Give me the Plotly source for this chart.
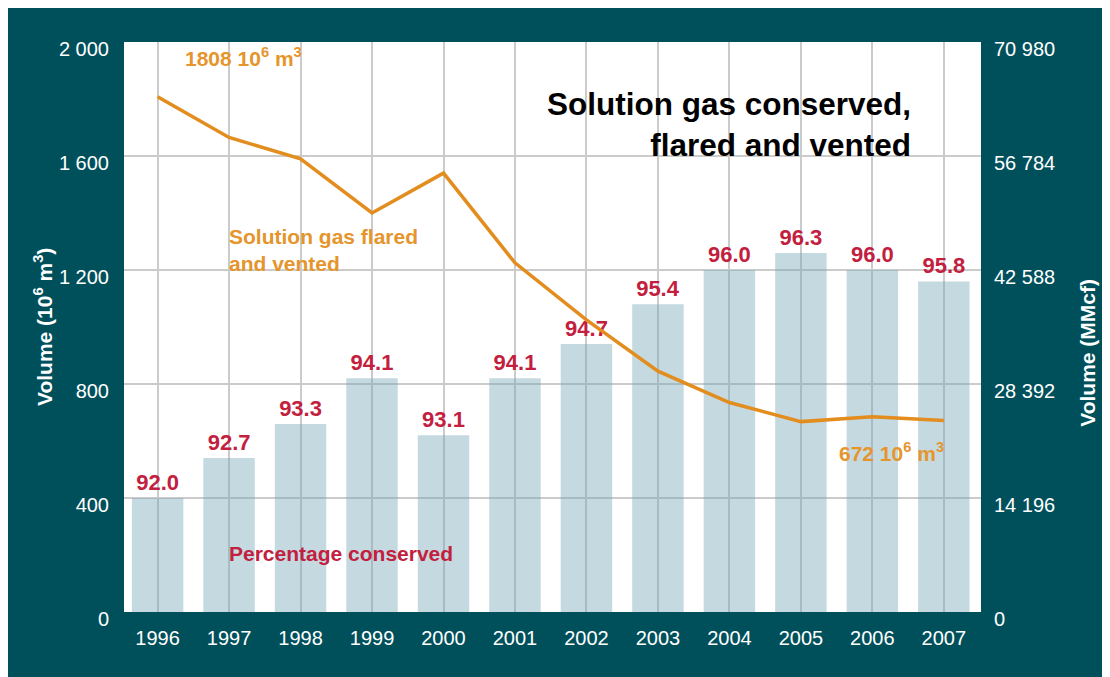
import plotly.graph_objects as go

years = [1996, 1997, 1998, 1999, 2000, 2001, 2002, 2003, 2004, 2005, 2006, 2007]
pct_conserved = [92.0, 92.7, 93.3, 94.1, 93.1, 94.1, 94.7, 95.4, 96.0, 96.3, 96.0, 95.8]
flared_vented = [1808, 1665, 1590, 1400, 1540, 1225, 1025, 845, 735, 668, 685, 672]

left_ticks = [0, 400, 800, 1200, 1600, 2000]
left_labels = ["0", "400", "800", "1 200", "1 600", "2 000"]
right_ticks = [0, 14196, 28392, 42588, 56784, 70980]
right_labels = ["0", "14 196", "28 392", "42 588", "56 784", "70 980"]

TEAL = "#00505C"
ORANGE = "#E28D1E"
ORANGE_TXT = "#E5952C"
CRIMSON = "#C2203E"
GRID = "#CBCBCB"
FONT = "Liberation Sans, Arial, sans-serif"

fig = go.Figure()

# bars: percentage conserved on a hidden 90-100 scale
fig.add_trace(go.Bar(
    x=years, y=pct_conserved, yaxis="y", width=0.72,
    marker=dict(color="rgba(118,168,184,0.43)", line=dict(width=0)),
    texttemplate="%{y:.1f}", textposition="outside",
    textfont=dict(color=CRIMSON, size=22, family=FONT, weight="bold"),
    cliponaxis=False, showlegend=False,
))

# line: solution gas flared and vented (10^6 m3)
fig.add_trace(go.Scatter(
    x=years, y=flared_vented, yaxis="y3", mode="lines",
    line=dict(color=ORANGE, width=3.5), showlegend=False,
))

# empty trace so the MMcf axis gets drawn
fig.add_trace(go.Scatter(x=[], y=[], yaxis="y2", showlegend=False, hoverinfo="skip"))

ann = dict(showarrow=False, xref="paper", yref="paper")
annotations = [
    dict(ann, text="<b>1808 10<sup>6</sup> m<sup>3</sup></b>", x=0.0688, y=0.974,
         xanchor="left", yanchor="middle", font=dict(family=FONT, size=21, color=ORANGE_TXT)),
    dict(ann, text="<b>Solution gas flared<br>and vented</b>", x=0.1202, y=0.635,
         xanchor="left", yanchor="middle", align="left",
         font=dict(family=FONT, size=21, color=ORANGE_TXT)),
    dict(ann, text="<b>Percentage conserved</b>", x=0.1202, y=0.1035,
         xanchor="left", yanchor="middle", font=dict(family=FONT, size=21, color=CRIMSON)),
    dict(ann, text="<b>672 10<sup>6</sup> m<sup>3</sup></b>", x=0.832, y=0.281,
         xanchor="left", yanchor="middle", font=dict(family=FONT, size=21, color=ORANGE_TXT)),
    dict(ann, text="<b>Solution gas conserved,<br>flared and vented</b>", x=0.9207, y=0.856,
         xanchor="right", yanchor="middle", align="right",
         font=dict(family=FONT, size=31.5, color="black")),
    dict(ann, text="<b>Volume (10<sup>6</sup> m<sup>3</sup>)</b>", x=-0.0945, y=0.5,
         xanchor="center", yanchor="middle", textangle=-90,
         font=dict(family=FONT, size=21, color="white")),
    dict(ann, text="<b>Volume (MMcf)</b>", x=1.125, y=0.455,
         xanchor="center", yanchor="middle", textangle=-90,
         font=dict(family=FONT, size=21, color="white")),
]

tickfont = dict(family=FONT, size=20, color="white")

fig.update_layout(
    width=1118, height=685,
    paper_bgcolor=TEAL, plot_bgcolor="white",
    margin=dict(l=116, r=145, t=34, b=81),
    xaxis=dict(range=[1995.53, 2007.52], tickvals=years, showgrid=True,
               gridcolor=GRID, gridwidth=1.5, zeroline=False, showline=False,
               tickfont=tickfont, ticklabelstandoff=12),
    yaxis=dict(range=[90, 100], visible=False, showgrid=False),
    yaxis3=dict(overlaying="y", side="left", range=[0, 2000],
                tickvals=left_ticks, ticktext=left_labels, showgrid=True,
                gridcolor=GRID, gridwidth=1.5, zeroline=False, showline=False,
                tickfont=tickfont, ticklabelstandoff=14, ticklabelshift=7),
    yaxis2=dict(overlaying="y", side="right", range=[0, 70980],
                tickvals=right_ticks, ticktext=right_labels, showgrid=False,
                zeroline=False, showline=False,
                tickfont=tickfont, ticklabelstandoff=12, ticklabelshift=7),
    annotations=annotations,
)

fig.write_html("out.html")
